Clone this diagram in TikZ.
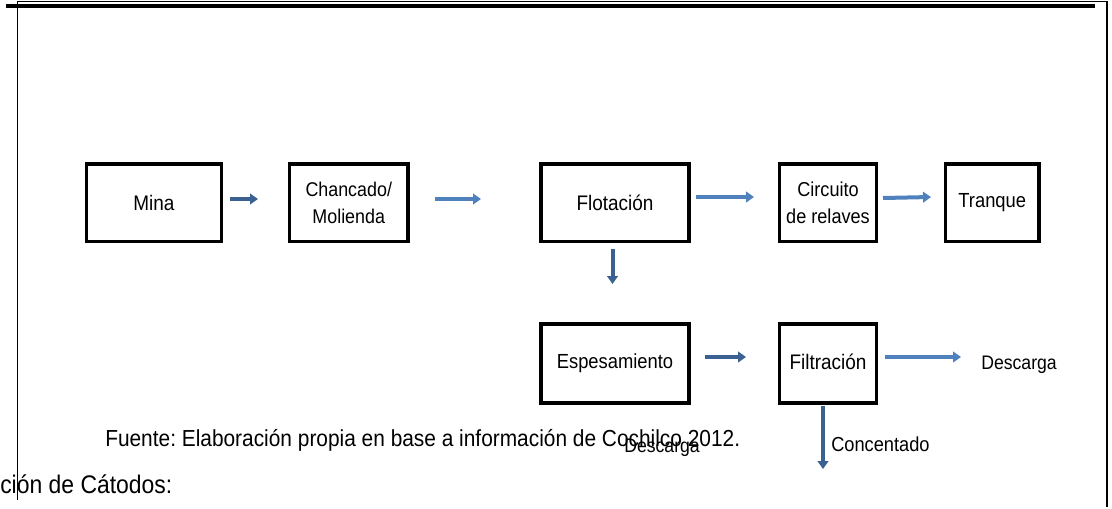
\documentclass[tikz,border=0pt]{standalone}
\usepackage{fontspec}
\setmainfont{Liberation Sans}[FakeStretch=0.9]
\usetikzlibrary{arrows.meta}
\definecolor{dkblue}{HTML}{3B6193}
\definecolor{ltblue}{HTML}{4F81BD}
\frenchspacing
\begin{document}
\begin{tikzpicture}[x=0.75pt,y=-0.75pt,
  box/.style={draw=black,line width=2.3pt,inner sep=0pt,align=center,
    font=\fontsize{15.8}{20}\selectfont},
  lbl/.style={inner sep=0pt,anchor=base west,font=\fontsize{15.5}{17}\selectfont},
  arr/.style={line width=3pt,-{Triangle[length=6pt,width=8pt]}},
  framethin/.style={line width=1.1pt,black},
]
\useasboundingbox (0,0) rectangle (1112,508);
% frame
\draw[framethin] (17,1.5) -- (1107,1.5);
\fill[black] (6,4) rectangle (1095,7.7);
\draw[framethin] (17.5,1) -- (17.5,500);
\draw[line width=1.5pt] (1107,1) -- (1107,507);
% boxes
\node[box,minimum width=101.25pt,minimum height=58.1pt] (mina) at (154,202.75) {Mina};
\node[box,minimum width=88.9pt,minimum height=58.1pt,font=\fontsize{14.9}{20}\selectfont] (chancado) at (348.75,202.75) {Chancado/\\Molienda};
\node[box,minimum width=111pt,minimum height=58.1pt] (flotacion) at (615,202.75) {Flotación};
\node[box,minimum width=72.75pt,minimum height=58.1pt,font=\fontsize{15.1}{20}\selectfont] (circuito) at (828,202.75) {Circuito\\de relaves};
\node[box,line width=2.8pt,minimum width=70.1pt,minimum height=58.1pt,font=\fontsize{15.3}{20}\selectfont] (tranque) at (992.25,202.75) {Tranque};
\node[box,minimum width=111pt,minimum height=59.25pt,font=\fontsize{15.3}{20}\selectfont] (espesamiento) at (615,363.5) {Espesamiento};
\node[box,minimum width=72.75pt,minimum height=59.25pt] (filtracion) at (828,363.5) {\raisebox{2.5pt}{Filtración}};
% free labels
\node[lbl,font=\fontsize{14.7}{16}\selectfont] (descarga1) at (981,369) {Descarga};
\node[lbl,font=\fontsize{15.2}{16}\selectfont] (concentado) at (831,451) {Concentado};
\node[lbl,font=\fontsize{17.4}{18}\selectfont] (fuente) at (105,446) {Fuente: Elaboración propia en base a información de Cochilco 2012.};
\node[lbl,font=\fontsize{14.7}{16}\selectfont] (descarga2) at (624,452) {Descarga};
\node[lbl,font=\fontsize{19.1}{20}\selectfont] (catodos) at (0,493) {ción de Cátodos:};
% arrow end points
\coordinate (a1s) at (230,199);   \coordinate (a1e) at (258,199);
\coordinate (a2s) at (435,199);   \coordinate (a2e) at (481,199);
\coordinate (a3s) at (696,197);   \coordinate (a3e) at (754,197);
\coordinate (a4s) at (883,198);   \coordinate (a4e) at (931,197);
\coordinate (a5s) at (612.5,249); \coordinate (a5e) at (612.5,284);
\coordinate (a6s) at (705,357);   \coordinate (a6e) at (746,357);
\coordinate (a7s) at (885,357);   \coordinate (a7e) at (961,357);
\coordinate (a8s) at (823,406);   \coordinate (a8e) at (823,469);
% arrows
\draw[arr,dkblue] (a1s) -- (a1e);
\draw[arr,ltblue] (a2s) -- (a2e);
\draw[arr,ltblue] (a3s) -- (a3e);
\draw[arr,ltblue] (a4s) -- (a4e);
\draw[arr,dkblue] (a5s) -- (a5e);
\draw[arr,dkblue] (a6s) -- (a6e);
\draw[arr,ltblue] (a7s) -- (a7e);
\draw[arr,dkblue] (a8s) -- (a8e);
\end{tikzpicture}
\end{document}
